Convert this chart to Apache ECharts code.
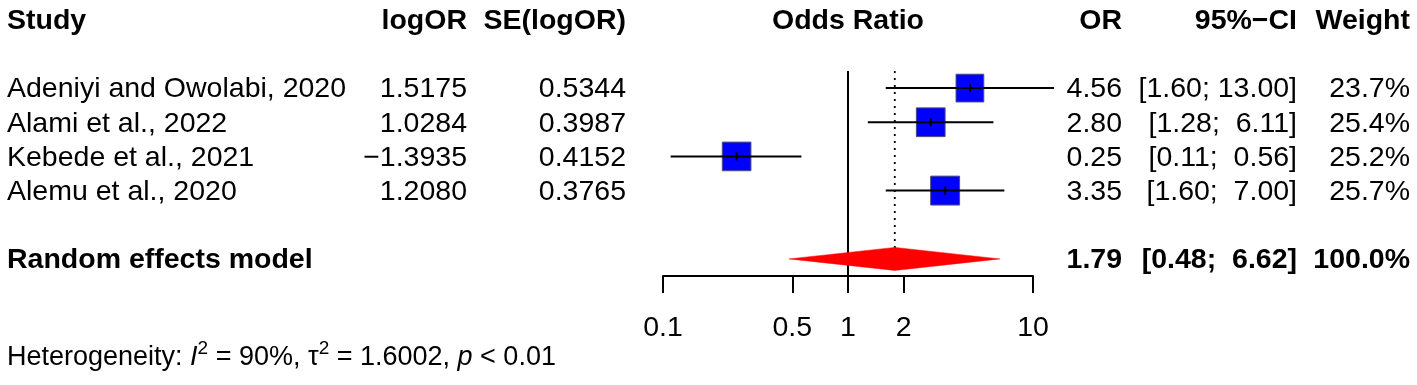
<!DOCTYPE html>
<html>
<head>
<meta charset="utf-8">
<script src="https://cdn.jsdelivr.net/npm/echarts@6/dist/echarts.min.js"></script>
<style>
  html, body { margin: 0; padding: 0; background: #fff; }
  #chart { width: 1417px; height: 385px; }
</style>
</head>
<body>
<div id="chart"></div>
<script>
// data
const studies = ['Adeniyi and Owolabi, 2020', 'Alami et al., 2022', 'Kebede et al., 2021', 'Alemu et al., 2020'];
const logOR = [1.5175, 1.0284, -1.3935, 1.2080];
const seLogOR = [0.5344, 0.3987, 0.4152, 0.3765];
const orVals = [4.56, 2.80, 0.25, 3.35];
const ciLow = [1.60, 1.28, 0.11, 1.60];
const ciHigh = [13.00, 6.11, 0.56, 7.00];
const weights = [23.7, 25.4, 25.2, 25.7];
const pooledLabel = 'Random effects model';
const pooledOR = 1.79;
const pooledLow = 0.48;
const pooledHigh = 6.62;
const pooledWeight = 100.0;
const axisTicks = [0.1, 0.5, 1, 2, 10];
const hetText = 'Heterogeneity: {it|I}{sup|2} = 90%, \u03c4{sup|2} = 1.6002, {it|p} < 0.01';

const FONT = '"Liberation Sans", Arial, Helvetica, sans-serif';
const FS = 28.5;
const lg = v => Math.log10(v);
const fmtNum = (v, d) => v.toFixed(d).replace('-', '\u2212');
const fmtCI = (lo, hi) => '[' + lo.toFixed(2) + '; ' + hi.toFixed(2).padStart(5, ' ') + ']';

// column layout (pixels)
const col = { study: 7, logOR: 467, se: 626, mid: 848, or: 1122, ci: 1297, w: 1410 };

// text cells, row index on the y axis
const cells = [];
function cell(row, x, align, text, bold, extra) {
  cells.push(Object.assign({ row, x, align, text, bold }, extra || {}));
}
cell(-1, col.study, 'left', 'Study', true);
cell(-1, col.logOR, 'right', 'logOR', true);
cell(-1, col.se, 'right', 'SE(logOR)', true);
cell(-1, col.mid, 'center', 'Odds Ratio', true);
cell(-1, col.or, 'right', 'OR', true);
cell(-1, col.ci, 'right', '95%\u2212CI', true);
cell(-1, col.w, 'right', 'Weight', true);
studies.forEach((s, i) => {
  const r = i + 1;
  cell(r, col.study, 'left', s, false);
  cell(r, col.logOR, 'right', fmtNum(logOR[i], 4), false);
  cell(r, col.se, 'right', fmtNum(seLogOR[i], 4), false);
  cell(r, col.or, 'right', orVals[i].toFixed(2), false);
  cell(r, col.ci, 'right', fmtCI(ciLow[i], ciHigh[i]), false);
  cell(r, col.w, 'right', weights[i].toFixed(1) + '%', false);
});
cell(6, col.study, 'left', pooledLabel, true);
cell(6, col.or, 'right', pooledOR.toFixed(2), true);
cell(6, col.ci, 'right', fmtCI(pooledLow, pooledHigh), true);
cell(6, col.w, 'right', pooledWeight.toFixed(1) + '%', true);
cell(8.85, col.study, 'left', hetText, false, { rich: true });

const chart = echarts.init(document.getElementById('chart'));

const option = {
  animation: false,
  backgroundColor: '#fff',
  grid: { left: 663, width: 370, top: 71, height: 205, containLabel: false, outerBoundsMode: 'none' },
  xAxis: {
    type: 'value',
    min: -1,
    max: 1,
    axisLine: { lineStyle: { color: '#000', width: 2 } },
    axisTick: { customValues: axisTicks.map(lg), length: 17, lineStyle: { color: '#000', width: 2 } },
    axisLabel: {
      customValues: axisTicks.map(lg),
      formatter: v => String(Number(Math.pow(10, v).toPrecision(6))),
      margin: 38,
      fontSize: FS,
      fontFamily: FONT,
      color: '#000'
    },
    splitLine: { show: false }
  },
  yAxis: { type: 'value', inverse: true, min: 0.5, max: 6.5, show: false },
  series: [
    {
      // line of no effect
      type: 'line',
      data: [[0, 0.5], [0, 6.5]],
      symbol: 'none',
      lineStyle: { color: '#000', width: 2 },
      silent: true
    },
    {
      // pooled estimate, dotted
      type: 'line',
      data: [[lg(pooledOR), 0.5], [lg(pooledOR), 6]],
      symbol: 'none',
      lineStyle: { color: '#000', width: 1.8, type: [2, 5] },
      silent: true
    },
    {
      type: 'custom',
      clip: false,
      renderItem(params, api) {
        const row = api.value(0);
        const c = api.coord([api.value(1), row]);
        const pLo = api.coord([api.value(2), row]);
        const pHi = api.coord([api.value(3), row]);
        const s = 5.7 * Math.sqrt(api.value(4));
        return {
          type: 'group',
          children: [
            { type: 'rect', shape: { x: c[0] - s / 2, y: c[1] - s / 2, width: s, height: s },
              style: { fill: '#0000ff', stroke: '#4b4b7d', lineWidth: 1 } },
            { type: 'line', shape: { x1: pLo[0], y1: c[1], x2: pHi[0], y2: c[1] },
              style: { stroke: '#000', lineWidth: 2 } },
            { type: 'line', shape: { x1: c[0], y1: c[1] - 4, x2: c[0], y2: c[1] + 4 },
              style: { stroke: '#000', lineWidth: 2 } }
          ]
        };
      },
      data: studies.map((s, i) => [i + 1, lg(orVals[i]), lg(ciLow[i]), lg(ciHigh[i]), weights[i]]),
      z: 3
    },
    {
      // pooled diamond
      type: 'custom',
      clip: false,
      renderItem(params, api) {
        const row = api.value(0);
        const c = api.coord([api.value(1), row]);
        const l = api.coord([api.value(2), row]);
        const r = api.coord([api.value(3), row]);
        const h = 11.5;
        return {
          type: 'polygon',
          shape: { points: [[l[0], c[1]], [c[0], c[1] - h], [r[0], c[1]], [c[0], c[1] + h]] },
          style: { fill: '#ff0000', stroke: '#ff0000', lineWidth: 0.5 }
        };
      },
      data: [[6, lg(pooledOR), lg(pooledLow), lg(pooledHigh)]],
      z: 4
    },
    {
      // table text
      type: 'custom',
      clip: false,
      silent: true,
      renderItem(params, api) {
        const cdef = cells[params.dataIndex];
        const y = api.coord([0, api.value(1)])[1] + 1.5;
        const style = {
          text: cdef.text,
          x: 0, y: 0,
          align: cdef.align,
          verticalAlign: 'middle',
          fill: '#000',
          fontSize: cdef.rich ? 27 : FS,
          fontFamily: FONT,
          fontWeight: cdef.bold ? 'bold' : 'normal'
        };
        if (cdef.rich) {
          style.rich = {
            it: { fontSize: 27, fontFamily: FONT, fontStyle: 'italic', fill: '#000' },
            sup: { fontSize: 19, fontFamily: FONT, fill: '#000', lineHeight: 19, padding: [0, 0, 19, 0] }
          };
        }
        return { type: 'text', x: cdef.x, y: y, style: style };
      },
      data: cells.map(c => [0, c.row]),
      z: 5
    }
  ]
};

chart.setOption(option);
</script>
</body>
</html>
